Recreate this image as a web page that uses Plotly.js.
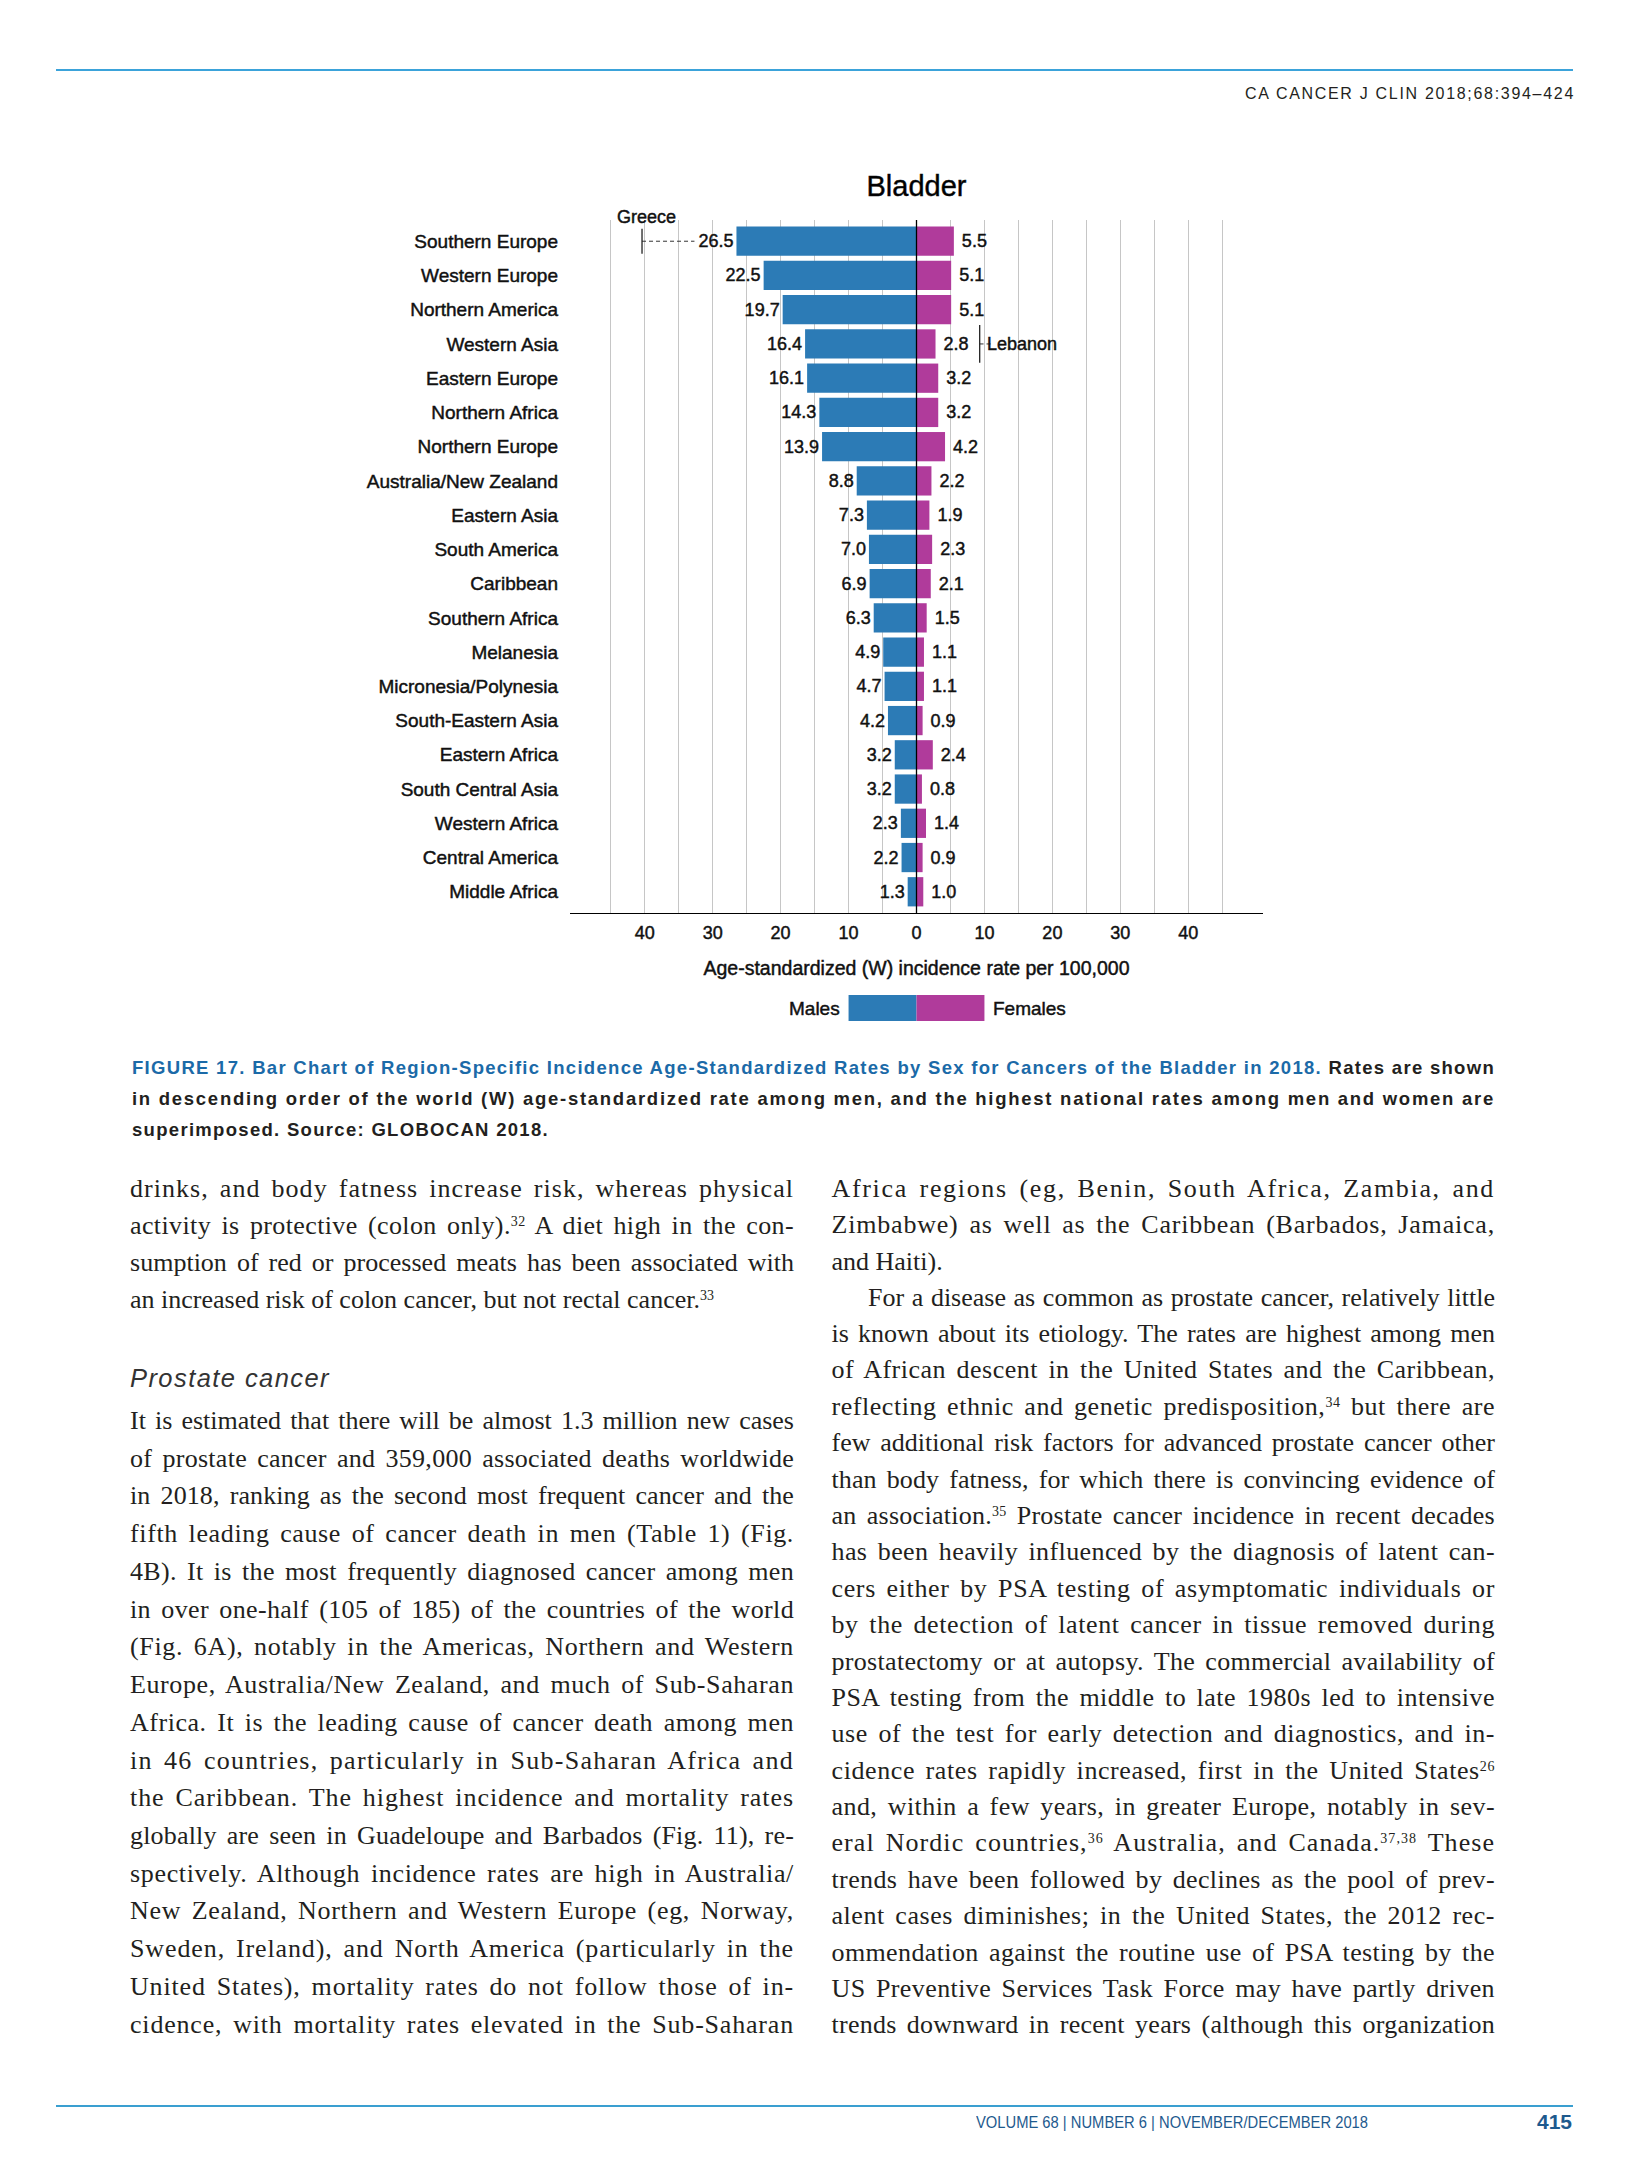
<!DOCTYPE html>
<html><head><meta charset="utf-8">
<script src="https://cdn.plot.ly/plotly-3.0.1.min.js"></script>
<style>
html,body{margin:0;padding:0;background:#fff;}
#page{position:relative;width:1626px;height:2175px;overflow:hidden;background:#fff;}
#chart{position:absolute;left:0;top:0;width:1626px;height:1045px;}
#chart svg text{stroke:#111;stroke-width:0.45px;}
.ln{position:absolute;white-space:nowrap;line-height:1.2;z-index:5;}
.body{font-family:"Liberation Serif","Times New Roman",serif;font-size:26px;color:#231f20;}
.ln sup{font-size:14px;vertical-align:baseline;position:relative;top:-8px;line-height:0;}
.cap{font-family:"Liberation Sans Narrow","Liberation Sans",Arial,sans-serif;font-weight:bold;font-size:18.5px;color:#231f20;}
.head{font-family:"Liberation Sans",Arial,sans-serif;font-size:16px;color:#231f20;}
.foot{font-family:"Liberation Sans Narrow","Liberation Sans",Arial,sans-serif;font-size:16px;color:#1e5a8e;}
.pnum{font-family:"Liberation Sans",Arial,sans-serif;font-weight:bold;font-size:21px;color:#1e5a8e;}
.h2{font-family:"Liberation Sans",Arial,sans-serif;font-style:italic;font-size:25.5px;color:#333;}
.rule{position:absolute;height:2px;background:#3aa2d8;z-index:5;}
</style></head>
<body><div id="page"><div id="chart"></div></div>
<script>
// ---------------- chart data ----------------
const regions = ["Southern Europe","Western Europe","Northern America","Western Asia","Eastern Europe",
  "Northern Africa","Northern Europe","Australia/New Zealand","Eastern Asia","South America",
  "Caribbean","Southern Africa","Melanesia","Micronesia/Polynesia","South-Eastern Asia",
  "Eastern Africa","South Central Asia","Western Africa","Central America","Middle Africa"];
const males = [26.5,22.5,19.7,16.4,16.1,14.3,13.9,8.8,7.3,7.0,6.9,6.3,4.9,4.7,4.2,3.2,3.2,2.3,2.2,1.3];
const females = [5.5,5.1,5.1,2.8,3.2,3.2,4.2,2.2,1.9,2.3,2.1,1.5,1.1,1.1,0.9,2.4,0.8,1.4,0.9,1.0];
const topMaleCountry = "Greece";   const topMaleRate = 40.4;   const topMaleRegion = "Southern Europe";
const topFemaleCountry = "Lebanon"; const topFemaleRate = 9.3;  const topFemaleRegion = "Western Asia";
const tickVals = [-45,-40,-35,-30,-25,-20,-15,-10,-5,0,5,10,15,20,25,30,35,40,45];
const tickText = ["","40","","30","","20","","10","","0","","10","","20","","30","","40",""];
const seriesNames = ["Males","Females"];
const chartTitle = "Bladder";
const xTitle = "Age-standardized (W) incidence rate per 100,000";

// ---------------- chart ----------------
const F = '"Liberation Sans", Arial, sans-serif';
const BLUE = '#2c7bb6', MAG = '#b03b9b';
const W = 1626, H = 1045, ML = 570, MR = 363, MT = 220, MB = 132;
const XR = [-51, 51];
const pxPerUnit = (W - ML - MR) / (XR[1] - XR[0]);
const mIdx = regions.indexOf(topMaleRegion), fIdx = regions.indexOf(topFemaleRegion);
const maleLeaderEnd = -(males[mIdx] + 42 / pxPerUnit);
const femaleLeaderStart = females[fIdx] + 55 / pxPerUnit;

const data = [
  {type:'bar', orientation:'h', name:seriesNames[0], y:regions, x:males.map(v=>-v),
   text:males.map(v=>v.toFixed(1)), textposition:'outside', cliponaxis:false, constraintext:'none',
   textfont:{family:F,size:18,color:'#111'}, marker:{color:BLUE,line:{width:0}}, hoverinfo:'skip'},
  {type:'bar', orientation:'h', name:seriesNames[1], y:regions, x:females,
   text:females.map(v=>'\u00a0'+v.toFixed(1)), textposition:'outside', cliponaxis:false, constraintext:'none',
   textfont:{family:F,size:18,color:'#111'}, marker:{color:MAG,line:{width:0}}, hoverinfo:'skip'},
  {type:'scatter', mode:'lines', x:[-topMaleRate, maleLeaderEnd], y:[topMaleRegion, topMaleRegion],
   line:{color:'#333',width:1,dash:'4px,3px'}, hoverinfo:'skip', cliponaxis:false},
  {type:'scatter', mode:'markers', x:[-topMaleRate], y:[topMaleRegion],
   marker:{symbol:'line-ns',size:18,line:{width:1.3,color:'#222'}}, hoverinfo:'skip', cliponaxis:false},
  {type:'scatter', mode:'lines', x:[femaleLeaderStart, topFemaleRate], y:[topFemaleRegion, topFemaleRegion],
   line:{color:'#333',width:1,dash:'4px,3px'}, hoverinfo:'skip', cliponaxis:false},
  {type:'scatter', mode:'markers', x:[topFemaleRate], y:[topFemaleRegion],
   marker:{symbol:'line-ns',size:27,line:{width:1.3,color:'#222'}}, hoverinfo:'skip', cliponaxis:false}
];

const plotH = H - MT - MB;
const legY0 = -(995 - (H - MB)) / plotH, legY1 = -(1021 - (H - MB)) / plotH;
const legYc = (legY0 + legY1) / 2;

const layout = {
  width:W, height:H, margin:{l:ML, r:MR, t:MT, b:MB, pad:0},
  paper_bgcolor:'#fff', plot_bgcolor:'#fff',
  barmode:'relative', bargap:0.145, showlegend:false,
  font:{family:F, color:'#111'},
  title:{text:chartTitle, font:{family:F,size:29,color:'#000'}, x:0.5, xref:'paper', xanchor:'center',
         y:1-186/H, yref:'container', yanchor:'middle'},
  xaxis:{range:XR, tickmode:'array', tickvals:tickVals, ticktext:tickText, showgrid:true,
         gridcolor:'#c6c6c6', gridwidth:1, zeroline:false, showline:true, linecolor:'#000', linewidth:1.3,
         ticks:'', ticklabelstandoff:3, tickfont:{family:F,size:18,color:'#111'}, fixedrange:true,
         title:{text:xTitle, font:{family:F,size:19.5,color:'#111'}, standoff:19}},
  yaxis:{type:'category', categoryorder:'array', categoryarray:regions, range:[19.62,-0.62],
         showgrid:false, zeroline:false, showline:false, ticks:'', ticklabelstandoff:11,
         tickfont:{family:F,size:19,color:'#111'}, fixedrange:true},
  shapes:[
    {type:'line', xref:'x', yref:'paper', x0:0, x1:0, y0:0, y1:1, line:{color:'#000',width:1.3}, layer:'above'},
    {type:'rect', xref:'x', yref:'paper', x0:-10, x1:0, y0:legY1, y1:legY0, fillcolor:BLUE, line:{width:0}},
    {type:'rect', xref:'x', yref:'paper', x0:0, x1:10, y0:legY1, y1:legY0, fillcolor:MAG, line:{width:0}}
  ],
  annotations:[
    {x:-topMaleRate, y:topMaleRegion, xref:'x', yref:'y', text:topMaleCountry, showarrow:false,
     xanchor:'center', yanchor:'middle', xshift:4, yshift:24, font:{family:F,size:18,color:'#111'}},
    {x:topFemaleRate, y:topFemaleRegion, xref:'x', yref:'y', text:topFemaleCountry, showarrow:false,
     xanchor:'left', yanchor:'middle', xshift:5, font:{family:F,size:18,color:'#111'}},
    {x:-10, y:legYc, xref:'x', yref:'paper', text:seriesNames[0], showarrow:false,
     xanchor:'right', yanchor:'middle', xshift:-7, font:{family:F,size:19,color:'#111'}},
    {x:10, y:legYc, xref:'x', yref:'paper', text:seriesNames[1], showarrow:false,
     xanchor:'left', yanchor:'middle', xshift:7, font:{family:F,size:19,color:'#111'}}
  ]
};
Plotly.newPlot('chart', data, layout, {staticPlot:true, displayModeBar:false});

// ---------------- page text ----------------
const page = document.getElementById('page');
function rule(x, y, w, color){ const r=document.createElement('div'); r.className='rule';
  r.style.left=x+'px'; r.style.top=y+'px'; r.style.width=w+'px'; if(color) r.style.background=color; page.appendChild(r); }
function placeLine(html, o){
  const d=document.createElement('div'); d.className='ln '+(o.cls||'');
  const s=document.createElement('span'); s.innerHTML=html; s.style.display='inline-block';
  const m=document.createElement('span'); m.style.cssText='display:inline-block;width:0;height:0;vertical-align:baseline;';
  d.appendChild(s); d.appendChild(m); d.style.left=o.x+'px'; d.style.top='0px'; page.appendChild(d);
  let w=s.getBoundingClientRect().width;
  if(o.width && o.mode && o.mode!=='none'){
    const T=o.width;
    if(o.mode==='word'){
      const n=(s.textContent.match(/ /g)||[]).length;
      const chars=s.textContent.length;
      if(T>=w){
        let ws=Math.min((T-w)/Math.max(n,1), 3.5);
        s.style.wordSpacing=ws+'px';
        const rest=T-w-ws*n;
        if(rest>0) s.style.letterSpacing=(rest/chars)+'px';
      } else {
        let ws=(T-w)/Math.max(n,1); if(ws<-2.5) ws=-2.5; s.style.wordSpacing=ws+'px';
      }
      w=s.getBoundingClientRect().width;
      if(Math.abs(w-T)>0.5){ s.style.transformOrigin='0 0'; s.style.transform='scaleX('+(T/w)+')'; }
    } else if(o.mode==='letter'){
      const n=s.textContent.length; s.style.letterSpacing=((T-w)/n)+'px';
    } else if(o.mode==='scale'){
      s.style.transformOrigin='0 0'; s.style.transform='scaleX('+(T/w)+')';
    }
  }
  if(o.align==='right'){ w=s.getBoundingClientRect().width; d.style.left=(o.x-w)+'px'; }
  const base=m.getBoundingClientRect().top-page.getBoundingClientRect().top;
  d.style.top=(o.baseline-base)+'px';
}

rule(56, 69, 1517, '#3ba3da');
rule(56, 2105, 1517, '#3a9fd0');
placeLine('CA CANCER J CLIN 2018;68:394–424', {cls:'head', x:1245, width:330, mode:'letter', baseline:99.3});
placeLine('VOLUME 68 | NUMBER 6 | NOVEMBER/DECEMBER 2018', {cls:'foot', x:976, width:392, mode:'scale', baseline:2128.3});
placeLine('415', {cls:'pnum', x:1572, align:'right', baseline:2128.5});

const capLines = [
 {t:'<span style="color:#1b6aa8">FIGURE 17. Bar Chart of Region-Specific Incidence Age-Standardized Rates by Sex for Cancers of the Bladder in 2018.</span> Rates are shown', w:1363},
 {t:'in descending order of the world (W) age-standardized rate among men, and the highest national rates among men and women are', w:1363},
 {t:'superimposed. Source: GLOBOCAN 2018.', w:417}
];
capLines.forEach((l,i)=>placeLine(l.t,{cls:'cap', x:132, width:l.w, mode:'letter', baseline:1074.3+i*30.6}));

placeLine('Prostate cancer', {cls:'h2', x:130, width:200, mode:'letter', baseline:1386.7});

const leftA = [
 ['drinks, and body fatness increase risk, whereas physical',1],
 ['activity is protective (colon only).<sup>32</sup> A diet high in the con-',1],
 ['sumption of red or processed meats has been associated with',1],
 ['an increased risk of colon cancer, but not rectal cancer.<sup>33</sup>',0]
];
const leftB = [
 ['It is estimated that there will be almost 1.3 million new cases',1],
 ['of prostate cancer and 359,000 associated deaths worldwide',1],
 ['in 2018, ranking as the second most frequent cancer and the',1],
 ['fifth leading cause of cancer death in men (Table 1) (Fig.',1],
 ['4B). It is the most frequently diagnosed cancer among men',1],
 ['in over one-half (105 of 185) of the countries of the world',1],
 ['(Fig. 6A), notably in the Americas, Northern and Western',1],
 ['Europe, Australia/New Zealand, and much of Sub-Saharan',1],
 ['Africa. It is the leading cause of cancer death among men',1],
 ['in 46 countries, particularly in Sub-Saharan Africa and',1],
 ['the Caribbean. The highest incidence and mortality rates',1],
 ['globally are seen in Guadeloupe and Barbados (Fig. 11), re-',1],
 ['spectively. Although incidence rates are high in Australia/',1],
 ['New Zealand, Northern and Western Europe (eg, Norway,',1],
 ['Sweden, Ireland), and North America (particularly in the',1],
 ['United States), mortality rates do not follow those of in-',1],
 ['cidence, with mortality rates elevated in the Sub-Saharan',1]
];
const rightA = [
 ['Africa regions (eg, Benin, South Africa, Zambia, and',1],
 ['Zimbabwe) as well as the Caribbean (Barbados, Jamaica,',1],
 ['and Haiti).',0]
];
const rightB = [
 ['For a disease as common as prostate cancer, relatively little',1,1],
 ['is known about its etiology. The rates are highest among men',1],
 ['of African descent in the United States and the Caribbean,',1],
 ['reflecting ethnic and genetic predisposition,<sup>34</sup> but there are',1],
 ['few additional risk factors for advanced prostate cancer other',1],
 ['than body fatness, for which there is convincing evidence of',1],
 ['an association.<sup>35</sup> Prostate cancer incidence in recent decades',1],
 ['has been heavily influenced by the diagnosis of latent can-',1],
 ['cers either by PSA testing of asymptomatic individuals or',1],
 ['by the detection of latent cancer in tissue removed during',1],
 ['prostatectomy or at autopsy. The commercial availability of',1],
 ['PSA testing from the middle to late 1980s led to intensive',1],
 ['use of the test for early detection and diagnostics, and in-',1],
 ['cidence rates rapidly increased, first in the United States<sup>26</sup>',1],
 ['and, within a few years, in greater Europe, notably in sev-',1],
 ['eral Nordic countries,<sup>36</sup> Australia, and Canada.<sup>37,38</sup> These',1],
 ['trends have been followed by declines as the pool of prev-',1],
 ['alent cases diminishes; in the United States, the 2012 rec-',1],
 ['ommendation against the routine use of PSA testing by the',1],
 ['US Preventive Services Task Force may have partly driven',1],
 ['trends downward in recent years (although this organization',1]
];
function block(lines, x, width, base0, step){
  lines.forEach((l,i)=>{
    const ind = l[2] ? 36.5 : 0;
    placeLine(l[0], {cls:'body', x:x+ind, width:width-ind, mode:l[1]?'word':'none', baseline:base0+i*step});
  });
}
block(leftA, 130, 664, 1196.7, 37.2);
block(leftB, 130, 664, 1429, 37.73);
block(rightA, 831.5, 663.5, 1196.7, 36.7);
block(rightB, 831.5, 663.5, 1305.7, 36.38);
</script>
</body></html>
